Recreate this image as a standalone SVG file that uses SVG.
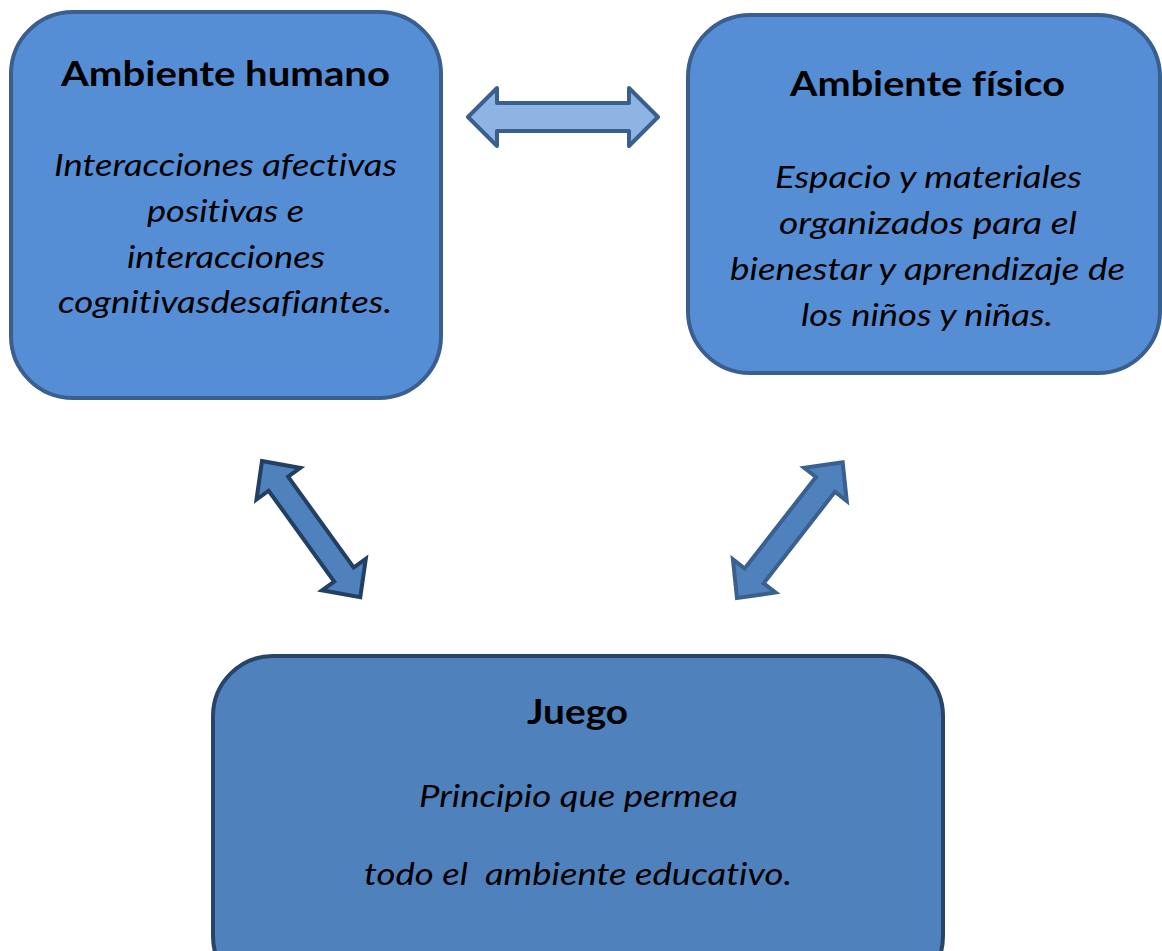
<svg xmlns="http://www.w3.org/2000/svg" width="1162" height="951" viewBox="0 0 1162 951">
<style>
.box1{fill:#558ed5;stroke:#3a5f8f;stroke-width:4}
.box3{fill:#4f81bd;stroke:#27446a;stroke-width:4}
.title{font-family:Lato,"Liberation Sans",sans-serif;font-weight:bold;font-size:35px;fill:#000;text-anchor:middle;font-variant-ligatures:none}
.body{font-family:Lato,"Liberation Sans",sans-serif;font-style:italic;font-size:31.5px;fill:#000;text-anchor:middle;font-variant-ligatures:none}
.harrow{fill:#8eb4e3;stroke:#3a5f8f;stroke-width:4;stroke-linejoin:round}
.darrowA{fill:#4f81bd;stroke:#233f62;stroke-width:4;stroke-linejoin:miter}
.darrowB{fill:#4f81bd;stroke:#3a6090;stroke-width:4;stroke-linejoin:miter}
</style>
<rect width="1162" height="951" fill="#ffffff"/>
<g id="ambiente-humano">
<rect class="box1" x="11" y="12" width="430" height="386" rx="62" ry="62"/>
<text class="title" x="225.5" y="86" textLength="329" lengthAdjust="spacingAndGlyphs">Ambiente humano</text>
<text class="body" x="225.5" y="176" textLength="343" lengthAdjust="spacingAndGlyphs">Interacciones afectivas</text>
<text class="body" x="225.5" y="222" textLength="157" lengthAdjust="spacingAndGlyphs">positivas e</text>
<text class="body" x="226" y="268" textLength="198" lengthAdjust="spacingAndGlyphs">interacciones</text>
<text class="body" x="225" y="313" textLength="334" lengthAdjust="spacingAndGlyphs">cognitivasdesafiantes.</text>
</g>
<g id="ambiente-fisico">
<rect class="box1" x="688" y="15" width="472" height="358" rx="62" ry="62"/>
<text class="title" x="927.5" y="96" textLength="275" lengthAdjust="spacingAndGlyphs">Ambiente físico</text>
<text class="body" x="928.5" y="188" textLength="307" lengthAdjust="spacingAndGlyphs">Espacio y materiales</text>
<text class="body" x="928" y="234" textLength="298" lengthAdjust="spacingAndGlyphs">organizados para el</text>
<text class="body" x="927.5" y="280" textLength="395" lengthAdjust="spacingAndGlyphs">bienestar y aprendizaje de</text>
<text class="body" x="927" y="326" textLength="252" lengthAdjust="spacingAndGlyphs">los niños y niñas.</text>
</g>
<g id="juego">
<rect class="box3" x="213" y="656" width="730" height="340" rx="60" ry="60"/>
<text class="title" x="577.5" y="724" textLength="101" lengthAdjust="spacingAndGlyphs">Juego</text>
<text class="body" x="578.5" y="807" textLength="319" lengthAdjust="spacingAndGlyphs">Principio que permea</text>
<text class="body" x="578" y="885" textLength="428" lengthAdjust="spacingAndGlyphs" xml:space="preserve">todo el  ambiente educativo.</text>
</g>
<g id="connectors">
<polygon class="harrow" transform="translate(468,117)" points="0,0 29,-29 29,-14 161,-14 161,-29 190,0 161,29 161,14 29,14 29,29"/>
<polygon class="darrowA" transform="translate(262,461) rotate(54.2)" points="0,0 28,-27 28,-12 140,-12 140,-27 168,0 140,27 140,12 28,12 28,27"/>
<polygon class="darrowB" transform="translate(737,598) rotate(-52.1)" points="0,0 28,-27 28,-12 144,-12 144,-27 172,0 144,27 144,12 28,12 28,27"/>
</g>
</svg>
